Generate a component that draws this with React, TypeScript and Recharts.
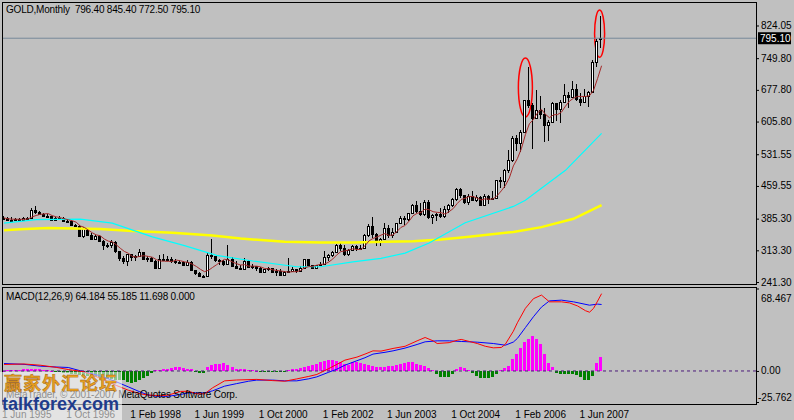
import { Bar, ComposedChart, Line, ReferenceArea, ReferenceLine, XAxis, YAxis } from 'recharts'

const FONT = '"Liberation Sans", Arial, sans-serif'
const MONTHS = ['Jan', 'Feb', 'Mar', 'Apr', 'May', 'Jun', 'Jul', 'Aug', 'Sep', 'Oct', 'Nov', 'Dec']
const START_MONTH = 5 // Jun
const START_YEAR = 1995
const SLOTS = 188 // bars + empty chart shift on the right

// GOLD monthly, Jun 1995 .. Nov 2007
const open = [
  385, 387, 383, 382, 384, 383, 387,
  387, 405, 400, 396, 392, 391, 382, 386, 387, 379, 380, 371,
  369, 345, 363, 349, 340, 345, 335, 326, 325, 332, 311, 296,
  290, 304, 297, 301, 309, 294, 296, 288, 273, 294, 292, 294,
  288, 287, 287, 280, 286, 268, 261, 255, 254, 302, 300, 292,
  288, 283, 293, 277, 274, 272, 288, 276, 277, 273, 264, 270,
  273, 265, 266, 258, 263, 267, 270, 266, 273, 293, 279, 274,
  279, 282, 297, 302, 309, 326, 318, 305, 313, 322, 318, 318,
  347, 368, 350, 335, 339, 365, 347, 355, 375, 386, 385, 397,
  416, 403, 396, 424, 388, 394, 396, 392, 408, 416, 429, 453,
  438, 422, 436, 428, 435, 417, 436, 430, 433, 473, 470, 495,
  518, 569, 556, 583, 654, 643, 614, 633, 623, 598, 605, 647,
  635, 651, 666, 662, 680, 656, 650, 665, 672, 742, 796.4,
]
const high = [
  391, 390, 388, 387, 387, 388, 390,
  409, 415, 403, 398, 395, 392, 390, 391, 388, 385, 384, 373,
  370, 366, 364, 353, 348, 347, 336, 330, 336, 334, 311, 300,
  306, 306, 303, 316, 310, 300, 298, 292, 303, 304, 300, 298,
  293, 291, 290, 291, 290, 268, 263, 258, 308, 338, 300, 294,
  292, 326, 298, 288, 280, 295, 292, 282, 278, 275, 272, 275,
  273, 270, 270, 266, 296, 275, 272, 278, 293, 293, 280, 280,
  286, 312, 304, 311, 328, 330, 326, 316, 325, 325, 325, 350,
  372, 389, 352, 341, 375, 371, 363, 375, 391, 391, 399, 418,
  426, 420, 428, 428, 396, 398, 409, 413, 418, 432, 456, 456,
  439, 441, 449, 439, 437, 442, 438, 448, 473, 480, 497, 541,
  572, 575, 587, 654, 730, 647, 677, 663, 637, 610, 651, 649,
  654, 690, 673, 697, 690, 671, 679, 675, 745, 794, 845.4,
]
const low = [
  382, 382, 381, 381, 381, 382, 384,
  386, 395, 393, 389, 388, 381, 380, 385, 377, 377, 369, 366,
  343, 342, 346, 337, 339, 334, 314, 319, 318, 307, 290, 283,
  278, 290, 290, 298, 291, 287, 287, 272, 273, 288, 290, 285,
  283, 283, 278, 279, 267, 257, 252, 251, 253, 294, 287, 279,
  278, 280, 275, 272, 269, 272, 274, 270, 267, 264, 262, 267,
  262, 255, 255, 254, 263, 265, 262, 266, 271, 277, 271, 271,
  277, 281, 288, 299, 307, 312, 300, 301, 311, 311, 314, 317,
  343, 342, 323, 322, 337, 342, 341, 353, 373, 371, 380, 396,
  399, 392, 392, 385, 372, 381, 386, 386, 398, 411, 425, 432,
  419, 417, 425, 422, 414, 414, 418, 428, 432, 456, 456, 490,
  515, 538, 537, 580, 636, 543, 612, 612, 560, 561, 605, 608,
  603, 648, 636, 662, 652, 641, 648, 640, 672, 730, 772.5,
]
const close = [
  387, 383, 382, 384, 383, 387, 387,
  405, 400, 396, 392, 391, 382, 386, 387, 379, 380, 371, 369,
  345, 363, 349, 340, 345, 335, 326, 325, 332, 311, 296, 290,
  304, 297, 301, 309, 294, 296, 288, 273, 294, 292, 294, 288,
  287, 287, 280, 286, 268, 261, 255, 254, 302, 300, 292, 288,
  283, 293, 277, 274, 272, 288, 276, 277, 273, 264, 270, 273,
  265, 266, 258, 263, 267, 270, 266, 273, 293, 279, 274, 279,
  282, 297, 302, 309, 326, 318, 305, 313, 322, 318, 318, 347,
  368, 350, 335, 339, 365, 347, 355, 375, 386, 385, 397, 416,
  403, 396, 424, 388, 394, 396, 392, 408, 416, 429, 453, 438,
  422, 436, 428, 435, 417, 436, 430, 433, 473, 470, 495, 518,
  569, 556, 583, 654, 643, 614, 633, 623, 598, 605, 647, 635,
  651, 666, 662, 680, 656, 650, 665, 672, 742, 789, 795.1,
]

// long moving averages: [bar index, price]
const cyanMA: [number, number][] = [
  [0, 375], [8, 383], [19, 384], [27, 375], [37, 344], [45, 324], [53, 302], [62, 289],
  [73, 276], [79, 276], [87, 287], [94, 295], [100, 307], [106, 330], [115, 376],
  [127, 413], [130, 427], [140, 495], [149, 579],
]
const yellowMA: [number, number][] = [
  [0, 359], [4, 361], [11, 364], [24, 362], [32, 357], [42, 353], [52, 347], [59, 340],
  [70, 333], [79, 331], [87, 331], [95, 333], [102, 334], [109, 338], [116, 344],
  [127, 355], [134, 366], [142, 385], [149, 416],
]

// MACD(12,26,9)
const macdHist = [
  0.3, 0.5, 0.8, 1.0, 1.2, 1.4, 1.5,
  1.7, 1.8, 1.5, 1.0,
  0.5, 0.2, -0.3, -0.8, -1.4,
  -1.9, -2.4, -2.9, -3.4, -3.8, -4.3, -4.8, -5.3, -5.8, -6.2, -6.7, -6.7, -7.2, -7.7, -7.7,
  -9.1, -9.6, -9.1, -7.7,
  -5.8, -3.8, -1.9,
  0.5, 1.0, 1.4,
  1.9, 2.4, 2.9, 2.9, 2.4, 1.9, 1.4,
  -1.0, -1.9, -1.9,
  2.9, 4.8, 5.8, 6.2, 6.7, 4.8, 2.9,
  1.9, 1.4, 1.4, 1.0, 0.5, 0.3,
  -0.5, -0.8, -1.0, -1.0, -0.8, -0.5, -0.3, 0.5,
  1.4, 1.9, 2.4,
  3.4, 4.3, 5.3, 6.2, 7.2, 8.2, 8.8, 8.8, 8.2, 7.2, 6.2, 5.3,
  7.2, 7.7, 6.7, 5.8, 4.8, 3.8, 3.4, 2.9, 3.4,
  3.8, 4.3, 4.8, 5.8, 6.7, 7.7, 7.2, 6.2, 5.3, 3.8, 2.4, 1.0,
  -2.9, -4.8, -5.3, -4.8, -2.9,
  1.4, 2.9, 2.4, 1.0,
  -1.4, -3.8, -5.8, -6.2, -6.2, -5.3, -2.9,
  1.0, 2.4, 3.8,
  9.6, 14.4, 19.2, 24.0, 26.9, 28.8, 26.9, 22.1, 14.4, 6.7, 2.9,
  -1.4, -2.9, -2.9, -2.4, -2.9, -3.4, -4.8, -7.2, -7.2, -3.8,
  6.7, 11.698,
]
const macdMain: [number, number][] = [
  [0, 5.4], [5, 5.8], [9, 4.8], [13, 3], [16, 1.2], [20, -0.7], [24, -6], [28, -12],
  [31, -16], [34, -19], [36, -20], [39, -20.5], [41, -20], [44, -17], [46, -16.8],
  [48, -19], [50, -19], [52, -14], [55, -8.2], [58, -7.5], [63, -7], [67, -8], [70, -8.5],
  [73, -6.6], [76, -4.5], [78, -2.9], [81, 2], [83, 5.5], [85, 9], [88, 11.5], [90, 14],
  [92, 16.7], [94, 16.5], [97, 18.7], [100, 20.5], [103, 25], [105, 27.8], [107, 25],
  [108, 22.8], [111, 23.5], [113, 25.5], [114, 26.2], [116, 24.5], [118, 22.8],
  [120, 20.5], [122, 19.2], [124, 19.5], [125, 22.2], [127, 33], [128, 40], [130, 52],
  [132, 60], [134, 63], [136, 57.4], [139, 57.4], [141, 56.5], [143, 54], [145, 50],
  [146, 48.8], [147, 52], [148, 58], [149, 64.184],
]
const macdSignal: [number, number][] = [
  [0, 6.2], [5, 5.5], [9, 4], [13, 3.3], [16, 2.9], [20, -0.7], [24, -4], [28, -9],
  [31, -13.2], [34, -17.5], [36, -20], [38, -21], [41, -21], [44, -19.5], [46, -18.2],
  [50, -18.2], [52, -16.5], [55, -12.6], [58, -10.5], [61, -8.5], [63, -7.6], [67, -7.6],
  [70, -8.2], [73, -8.2], [76, -6.5], [78, -4.9], [81, -1], [83, 1.5], [85, 4.8],
  [88, 8.5], [90, 11], [92, 14], [95, 15.5], [97, 16.7], [100, 19], [103, 22], [105, 24.2],
  [108, 25], [111, 25], [114, 24.5], [118, 23.9], [122, 22.8], [125, 21.4], [127, 24],
  [128, 27], [130, 36], [132, 45], [134, 53], [136, 58.2], [139, 58.8], [142, 57.4],
  [146, 54.6], [148, 55.5], [149, 55.185],
]

const priceTicks = [824.05, 749.8, 677.8, 605.8, 531.55, 459.55, 385.3, 313.3, 241.3]
const lastPrice = 795.1
const macdTicks = [68.467, 0, -25.762]
const macdTickText = ['68.467', '0.00', '-25.762']
const dateTicks = ['1 Jun 1995', '1 Oct 1996', '1 Feb 1998', '1 Jun 1999', '1 Oct 2000', '1 Feb 2002', '1 Jun 2003', '1 Oct 2004', '1 Feb 2006', '1 Jun 2007']

const monthLabel = (i: number) => {
  const t = START_MONTH + i
  return `${MONTHS[t % 12]} ${START_YEAR + Math.floor(t / 12)}`
}

// 5 bar simple average of the close (the thin brown line)
const ma5 = close.map((_, i) => {
  const s = close.slice(Math.max(0, i - 4), i + 1)
  return s.reduce((a, b) => a + b, 0) / s.length
})

const rows: any[] = Array.from({ length: SLOTS }, (_, i) => {
  const has = i < close.length
  return {
    m: monthLabel(i),
    range: has ? [low[i], high[i]] : undefined,
    o: has ? open[i] : undefined,
    h: has ? high[i] : undefined,
    l: has ? low[i] : undefined,
    c: has ? close[i] : undefined,
    ma5: has ? ma5[i] : undefined,
    hist: has ? macdHist[i] : undefined,
  }
})
cyanMA.forEach(([i, v]) => (rows[i].cyan = v))
yellowMA.forEach(([i, v]) => (rows[i].yellow = v))
macdMain.forEach(([i, v]) => (rows[i].macd = v))
macdSignal.forEach(([i, v]) => (rows[i].signal = v))

function Candle(props: any) {
  const { x, y, width, height, payload } = props
  if (!payload || payload.o == null || !height) return <g />
  const top = Math.min(y, y + height)
  const span = Math.abs(height)
  const k = span / (payload.h - payload.l)
  const cx = Math.round(x + width / 2) - 1
  const yO = top + (payload.h - payload.o) * k
  const yC = top + (payload.h - payload.c) * k
  const b0 = Math.round(Math.min(yO, yC))
  let b1 = Math.round(Math.max(yO, yC))
  if (b1 - b0 < 1) b1 = b0 + 1
  const up = payload.c > payload.o
  const t = Math.round(top)
  return (
    <g shapeRendering="crispEdges">
      <rect x={cx} y={t} width={1} height={Math.max(1, Math.round(top + span) - t)} fill="#000" />
      <rect x={cx - 1} y={b0} width={3} height={b1 - b0 + 1} fill="#000" />
      {up && b1 - b0 >= 2 && <rect x={cx} y={b0 + 1} width={1} height={b1 - b0 - 1} fill="#fff" />}
    </g>
  )
}

function HistBar(props: any) {
  const { x, y, width, height, payload } = props
  if (!payload || payload.hist == null) return <g />
  const top = Math.min(y, y + height)
  const cx = Math.round(x + width / 2) - 1
  return (
    <rect
      x={cx - 1}
      y={Math.round(top)}
      width={3}
      height={Math.max(1, Math.round(Math.abs(height)))}
      fill={payload.hist >= 0 ? '#FF00FF' : '#008000'}
      shapeRendering="crispEdges"
    />
  )
}

const Ellipse = (p: any) => (
  <ellipse
    cx={p.x + p.width / 2}
    cy={p.y + p.height / 2}
    rx={p.width / 2 + 1}
    ry={p.height / 2}
    fill="none"
    stroke="#FF0000"
    strokeWidth={1.5}
  />
)

function PriceTick({ y, payload }: any) {
  const v = payload.value
  if (v === lastPrice) {
    return (
      <g>
        <rect x={758} y={y - 6} width={33} height={12} fill="#000" />
        <text x={760} y={y} dy="0.35em" fontSize={10} fontFamily={FONT} fill="#fff">
          {v.toFixed(2)}
        </text>
      </g>
    )
  }
  return (
    <g>
      <line x1={756} x2={759} y1={y + 0.5} y2={y + 0.5} stroke="#000" />
      <text x={761} y={y} dy="0.35em" fontSize={10} fontFamily={FONT} fill="#000">
        {v.toFixed(2)}
      </text>
    </g>
  )
}

function MacdTick({ y, payload, index }: any) {
  const v = payload.value
  const dy = v === macdTicks[0] ? 10 : v === macdTicks[2] ? -5 : 0
  const i = macdTicks.indexOf(v)
  return (
    <g>
      <line x1={756} x2={759} y1={y + 0.5} y2={y + 0.5} stroke="#000" />
      <text x={v < 0 ? 758 : 761} y={y + dy} dy="0.35em" fontSize={10} fontFamily={FONT} fill="#000">
        {macdTickText[i >= 0 ? i : index]}
      </text>
    </g>
  )
}

function DateTick({ x, y, payload }: any) {
  return (
    <text x={x - 2} y={y + 14} fontSize={10} fontFamily={FONT} fill="#000">
      {'1 ' + payload.value}
    </text>
  )
}

const frame = (left: number, top: number, width: number, height: number) => (
  <div
    style={{
      position: 'absolute',
      left,
      top,
      width,
      height,
      border: '1px solid #000',
      boxSizing: 'border-box',
      pointerEvents: 'none',
    }}
  />
)

const textStyle = (left: number, top: number): React.CSSProperties => ({
  position: 'absolute',
  left,
  top,
  fontFamily: FONT,
  fontSize: 10,
  lineHeight: '12px',
  color: '#000',
  whiteSpace: 'pre',
  letterSpacing: -0.2,
})

export default function App() {
  return (
    <div style={{ position: 'absolute', left: 0, top: 0, width: 794, height: 420, background: '#C0C0C0', overflow: 'hidden' }}>
      <div style={{ position: 'absolute', left: 0, top: 0 }}>
        <ComposedChart width={794} height={292} data={rows} margin={{ top: 2, right: 0, bottom: 8, left: 2 }}>
          <XAxis dataKey="m" hide />
          <YAxis
            orientation="right"
            width={38}
            domain={[236.8, 877.4]}
            allowDataOverflow
            ticks={[...priceTicks, lastPrice]}
            interval={0}
            axisLine={false}
            tickLine={false}
            tickSize={0}
            tick={<PriceTick />}
          />
          <ReferenceLine y={lastPrice} stroke="#778899" />
          <Bar dataKey="range" shape={<Candle />} isAnimationActive={false} />
          <Line dataKey="yellow" stroke="#FFFF00" strokeWidth={2.5} dot={false} connectNulls isAnimationActive={false} />
          <Line dataKey="cyan" stroke="#00FFFF" strokeWidth={1.2} dot={false} connectNulls isAnimationActive={false} />
          <Line dataKey="ma5" stroke="#A52A2A" strokeWidth={1} dot={false} isAnimationActive={false} />
          <ReferenceArea x1={monthLabel(129)} x2={monthLabel(131)} y1={616} y2={750} shape={<Ellipse />} ifOverflow="visible" />
          <ReferenceArea x1={monthLabel(148)} x2={monthLabel(149)} y1={752} y2={859} shape={<Ellipse />} ifOverflow="visible" />
        </ComposedChart>
      </div>
      <div style={{ position: 'absolute', left: 0, top: 287 }}>
        <ComposedChart width={794} height={133} data={rows} margin={{ top: 1.5, right: 0, bottom: 0, left: 2 }}>
          <XAxis
            dataKey="m"
            height={18}
            ticks={dateTicks.map((d) => d.slice(2))}
            interval={0}
            axisLine={false}
            tickLine={false}
            tickSize={0}
            tick={<DateTick />}
          />
          <YAxis
            orientation="right"
            width={38}
            domain={[-25.762, 68.467]}
            allowDataOverflow
            ticks={macdTicks}
            interval={0}
            axisLine={false}
            tickLine={false}
            tickSize={0}
            tick={<MacdTick />}
          />
          <ReferenceLine y={0} stroke="#4B1A7A" strokeDasharray="3 3" />
          <Bar dataKey="hist" shape={<HistBar />} isAnimationActive={false} />
          <Line dataKey="signal" stroke="#0000FF" strokeWidth={1} dot={false} connectNulls isAnimationActive={false} />
          <Line dataKey="macd" stroke="#FF0000" strokeWidth={1} dot={false} connectNulls isAnimationActive={false} />
        </ComposedChart>
      </div>
      {frame(2, 2, 755, 283)}
      {frame(2, 287, 755, 118)}
      <div style={textStyle(6, 4)}>GOLD,Monthly  796.40 845.40 772.50 795.10</div>
      <div style={textStyle(6, 291)}>MACD(12,26,9) 64.184 55.185 11.698 0.000</div>
      <div style={textStyle(6, 389)}>MetaTrader, © 2001-2007 MetaQuotes Software Corp.</div>
      <div style={{ position: 'absolute', left: 0, top: 372, width: 122, height: 48, background: 'rgba(255,255,255,0.55)' }} />
      <div
        style={{
          position: 'absolute',
          left: 4,
          top: 371,
          fontFamily: '"Noto Sans CJK SC", sans-serif',
          fontWeight: 700,
          fontSize: 18,
          lineHeight: '22px',
          letterSpacing: 1,
          color: '#E8A020',
          WebkitTextStroke: '0.4px #9A5A10',
          whiteSpace: 'pre',
        }}
      >
        赢家外汇论坛
      </div>
      <div
        style={{
          position: 'absolute',
          left: 2,
          top: 393,
          fontFamily: FONT,
          fontWeight: 700,
          fontSize: 18,
          lineHeight: '22px',
          color: '#1F3C8C',
          whiteSpace: 'pre',
        }}
      >
        talkforex.com
      </div>
    </div>
  )
}
